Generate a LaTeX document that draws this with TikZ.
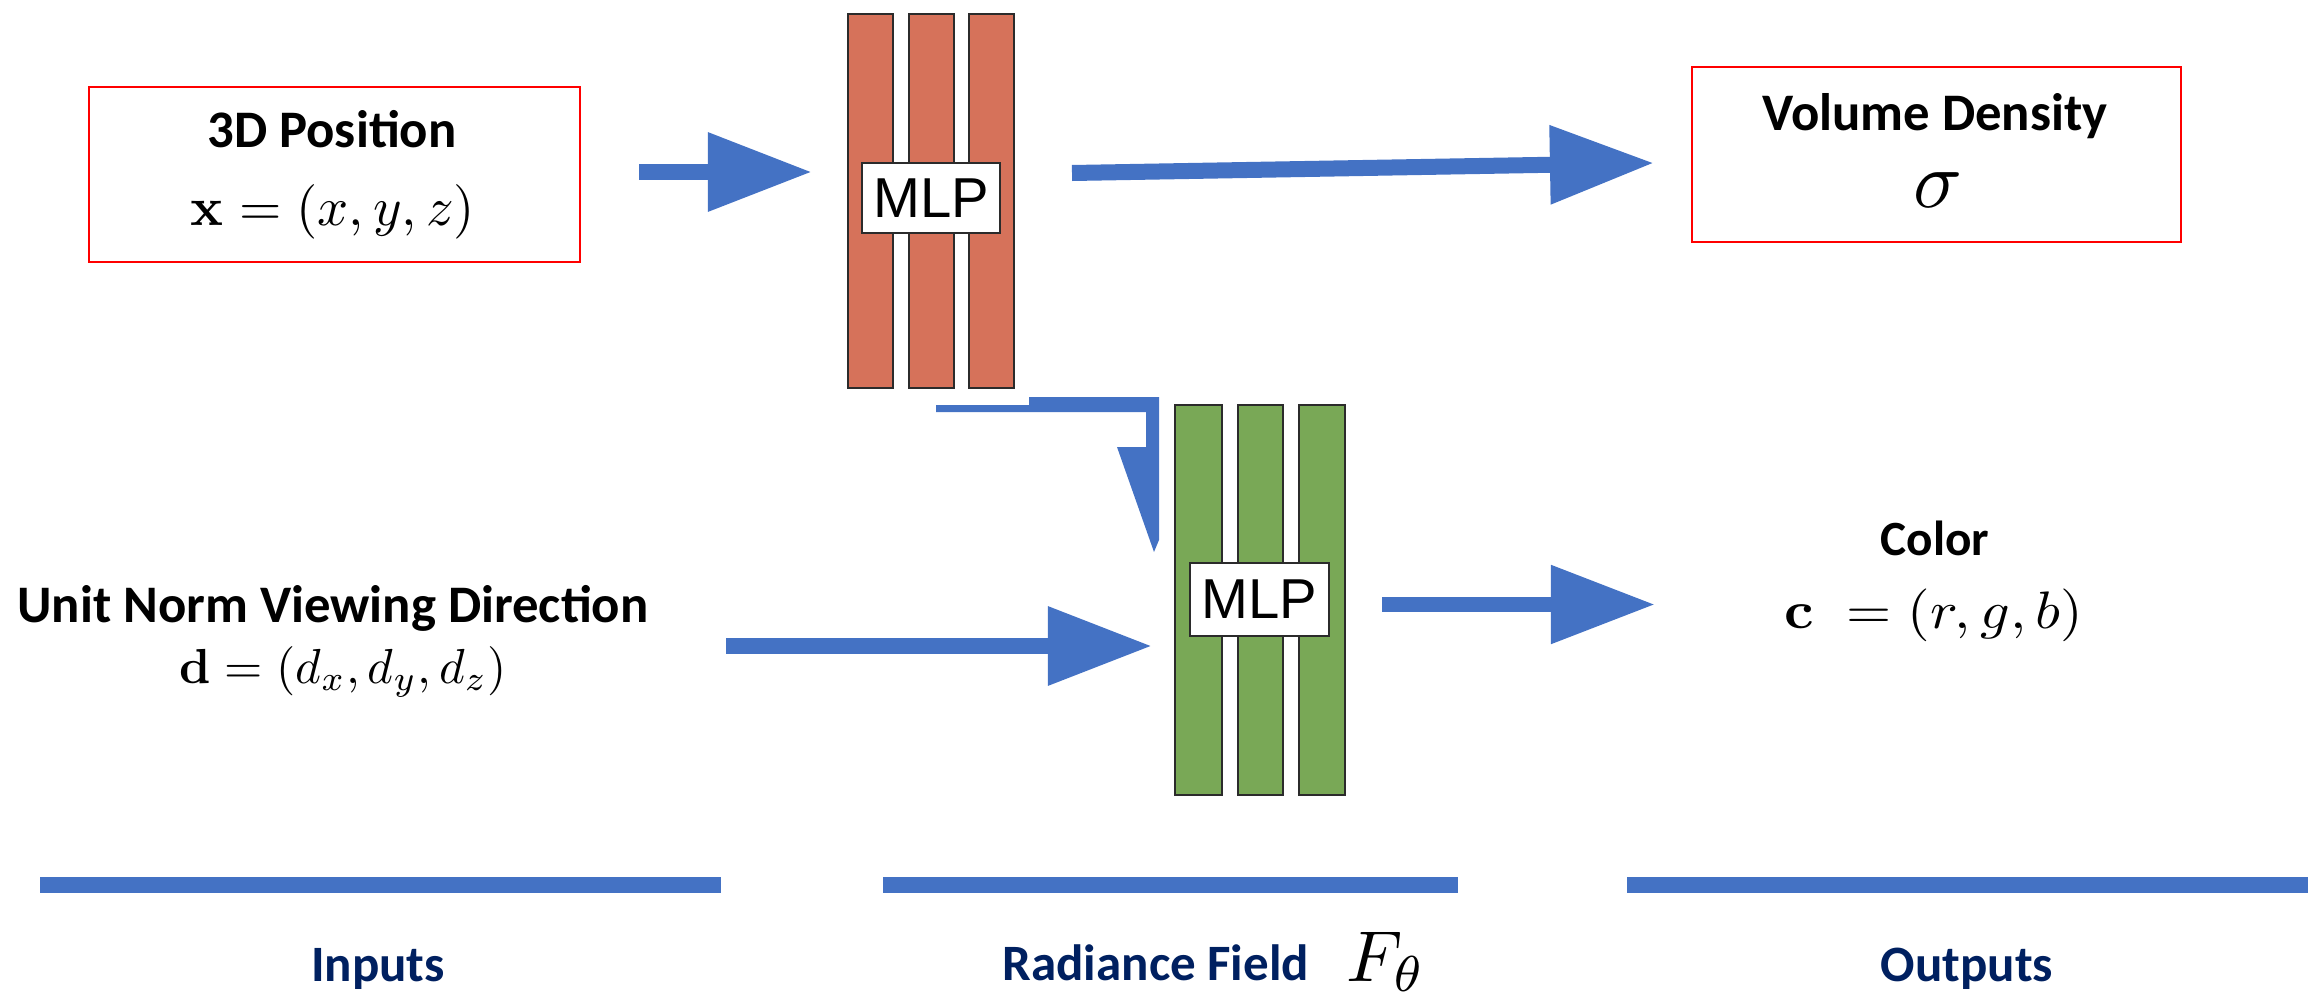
\documentclass[tikz,border=0pt]{standalone}
\usepackage{graphicx}
\usepackage[no-math]{fontspec}
\setmainfont{Carlito}
\newfontfamily\arialfont{Liberation Sans}
\usetikzlibrary{arrows.meta}
\definecolor{arrowblue}{HTML}{4472C4}
\definecolor{navy}{HTML}{002060}
\definecolor{mlpred}{HTML}{D6725A}
\definecolor{mlpgreen}{HTML}{79A856}
\definecolor{edgegray}{HTML}{2B2B2B}
\tikzset{
  blockarrow/.style={draw=arrowblue, fill=arrowblue, line width=0.16cm, -{Triangle[length=1.04cm,width=0.75cm]}},
  redbox/.style={draw=red, line width=0.025cm, inner sep=0pt},
  layerbar/.style={draw=edgegray, line width=0.022cm, inner sep=0pt, minimum width=0.45cm},
  mlpbox/.style={draw=edgegray, fill=white, line width=0.022cm, inner sep=0pt, font=\arialfont\fontsize{16}{18}\selectfont},
  titletext/.style={anchor=base, inner sep=0pt, font=\bfseries\fontsize{15}{18}\selectfont},
  labeltext/.style={anchor=base, inner sep=0pt, text=navy, font=\bfseries\fontsize{14.5}{17}\selectfont},
  mathtext/.style={anchor=base, inner sep=0pt},
  sectionbar/.style={fill=arrowblue, inner sep=0pt, minimum height=0.16cm}
}
\begin{document}
\begin{tikzpicture}[x=0.01cm,y=-0.01cm]
\useasboundingbox (0,0) rectangle (2323,1000);

% ---------- Inputs ----------
\node[redbox, minimum width=4.91cm, minimum height=1.75cm] (posbox) at (334.5,174.5) {};
\node[titletext] (posT) at (332,147) {3D Position};
\node[mathtext] (posM) at (333,225) {\scalebox{1.55}{$\mathbf{x} = (x, y, z)$}};

\node[titletext] (dirT) at (333,622) {Unit Norm Viewing Direction};
\node[mathtext] (dirM) at (343,683) {\scalebox{1.4}{$\mathbf{d} = (d_x, d_y, d_z)$}};

% ---------- elbow arrow (drawn under the red MLP picture) ----------
\coordinate (eA) at (936,397);
\coordinate (eB) at (1159,397);
\coordinate (eC) at (1159,540);
\coordinate (eTip) at (1154,552);
\coordinate (eD) at (1117,447);
\coordinate (eE) at (1146,447);
\coordinate (eF) at (1146,412);
\coordinate (eG) at (936,412);
\fill[arrowblue] (eA) -- (eB) -- (eC) -- (eTip) -- (eD) -- (eE) -- (eF) -- (eG) -- cycle;

% white background of the red MLP picture
\fill[white] (830,0) rectangle (1029,405);

% ---------- Red MLP ----------
\node[layerbar, fill=mlpred, minimum height=3.74cm] (r1) at (870.5,201) {};
\node[layerbar, fill=mlpred, minimum height=3.74cm] (r2) at (931.5,201) {};
\node[layerbar, fill=mlpred, minimum height=3.74cm] (r3) at (991.5,201) {};
\node[mlpbox, minimum width=1.38cm, minimum height=0.70cm] (rmlp) at (931,198) {MLP};

% ---------- Green MLP ----------
\node[layerbar, fill=mlpgreen, minimum width=0.47cm, minimum height=3.90cm] (g1) at (1198.5,600) {};
\node[layerbar, fill=mlpgreen, minimum height=3.90cm] (g2) at (1260.5,600) {};
\node[layerbar, fill=mlpgreen, minimum width=0.46cm, minimum height=3.90cm] (g3) at (1322,600) {};
\node[mlpbox, minimum width=1.39cm, minimum height=0.73cm] (gmlp) at (1259.5,599.5) {MLP};

% ---------- Outputs ----------
\node[redbox, minimum width=4.89cm, minimum height=1.75cm] (sigbox) at (1936.5,154.5) {};
\node[titletext] (sigT) at (1935,130) {Volume Density};
\node[mathtext] (sigM) at (1938,207) {\scalebox{2.3}{$\sigma$}};

\node[titletext, font=\bfseries\fontsize{14}{17}\selectfont] (colT) at (1935,555) {Color};
\node[mathtext] (colM) at (1934,628) {\scalebox{1.65}[1.5]{$\mathbf{c}\;= (r, g, b)$}};

% ---------- Arrows ----------
\coordinate (a1s) at (639,172);
\coordinate (a1e) at (812,172);
\draw[blockarrow] (a1s) -- (a1e);

\coordinate (a2s) at (1072,173);
\coordinate (a2e) at (1654,163);
\draw[blockarrow] (a2s) -- (a2e);

\coordinate (a3s) at (726,646);
\coordinate (a3e) at (1152,646);
\draw[blockarrow] (a3s) -- (a3e);

\coordinate (a4s) at (1382,604.5);
\coordinate (a4e) at (1655,604.5);
\draw[blockarrow, line width=0.15cm] (a4s) -- (a4e);

% ---------- Section bars and labels ----------
\node[sectionbar, minimum width=6.81cm] (barIn) at (380.5,885) {};
\node[sectionbar, minimum width=5.75cm] (barRF) at (1170.5,885) {};
\node[sectionbar, minimum width=6.81cm] (barOut) at (1967.5,885) {};

\node[labeltext] (lblIn) at (378,981) {Inputs};
\node[labeltext, anchor=base west] (lblRF) at (1002,980) {Radiance Field};
\node[mathtext, anchor=base west] (lblF) at (1346,981) {\scalebox{2.05}{$F_\theta$}};
\node[labeltext] (lblOut) at (1967,981) {Outputs};
\end{tikzpicture}
\end{document}
